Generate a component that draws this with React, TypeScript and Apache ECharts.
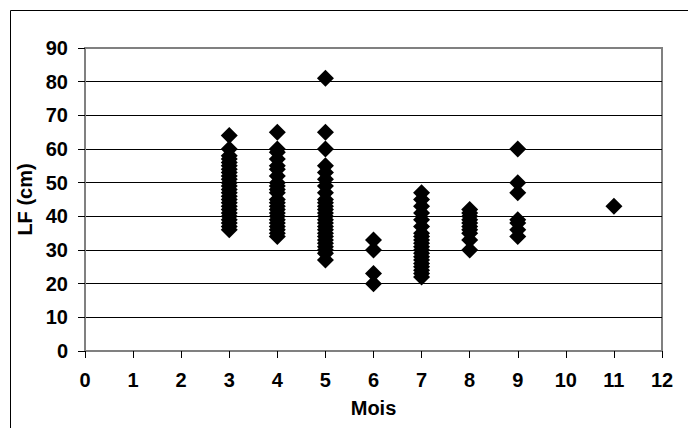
import React, { useEffect, useRef } from "react";
import * as echarts from "echarts";

// Month (Mois) values and fork length (LF, cm)
const lf3 = [64, 60, 58, 57, 56, 55, 54, 53, 52, 51, 50, 49, 48, 47, 46, 45, 44, 43, 42, 41, 40, 39, 38, 37, 36];
const lf4 = [65, 60, 59, 57, 55, 54, 52, 50, 49, 48, 47, 45, 44, 43, 42, 41, 40, 39, 38, 37, 36, 35, 34];
const lf5 = [81, 65, 60, 55, 53, 51, 49, 47, 45, 44, 43, 42, 41, 40, 39, 38, 37, 36, 35, 34, 33, 32, 31, 30, 29, 27];
const lf6 = [33, 30, 23, 20];
const lf7 = [47, 45, 43, 41, 39, 37, 35, 34, 33, 32, 31, 30, 29, 28, 27, 26, 25, 24, 23, 22];
const lf8 = [42, 41, 40, 39, 38, 37, 36, 35, 33, 30];
const lf9 = [60, 50, 47, 39, 38, 36, 34];
const lf11 = [43];

const months = [3, 4, 5, 6, 7, 8, 9, 11];
const lfByMonth = [lf3, lf4, lf5, lf6, lf7, lf8, lf9, lf11];

const xTicks = { min: 0, max: 12, interval: 1 };
const yTicks = { min: 0, max: 90, interval: 10 };

const FONT = 'Arial, "Liberation Sans", Helvetica, sans-serif';

export default function App() {
  const ref = useRef<HTMLDivElement>(null);

  useEffect(() => {
    if (!ref.current) return;
    const chart = echarts.init(ref.current, undefined, { renderer: "svg" });
    const data: number[][] = [];
    months.forEach((m, i) => {
      lfByMonth[i].forEach((v) => data.push([m, v]));
    });

    const txt = { fontFamily: FONT, fontWeight: "bold", fontSize: 20, color: "#000" };

    chart.setOption({
      animation: false,
      backgroundColor: "#ffffff",
      grid: {
        left: 85,
        top: 48,
        right: 26,
        bottom: 77,
        show: true,
        borderColor: "#808080",
        borderWidth: 2,
        backgroundColor: "transparent",
      },
      graphic: [
        {
          type: "rect",
          shape: { x: 10.5, y: 10.5, width: 900, height: 600 },
          style: { fill: "none", stroke: "#000000", lineWidth: 1 },
          silent: true,
          z: -10,
        },
      ],
      xAxis: {
        type: "value",
        min: xTicks.min,
        max: xTicks.max,
        interval: xTicks.interval,
        name: "Mois",
        nameLocation: "middle",
        nameGap: 47,
        nameTextStyle: txt,
        axisLine: { show: true, lineStyle: { color: "#808080", width: 2 } },
        axisTick: { show: true, inside: false, length: 7, lineStyle: { color: "#000", width: 1 } },
        axisLabel: { ...txt, margin: 19 },
        splitLine: { show: false },
      },
      yAxis: {
        type: "value",
        min: yTicks.min,
        max: yTicks.max,
        interval: yTicks.interval,
        name: "LF (cm)",
        nameLocation: "middle",
        nameGap: 46,
        nameTextStyle: txt,
        axisLine: { show: true, lineStyle: { color: "#808080", width: 2 } },
        axisTick: { show: true, inside: false, length: 7, lineStyle: { color: "#000", width: 1 } },
        axisLabel: { ...txt, margin: 17 },
        splitLine: { show: true, showMaxLine: false, showMinLine: false, lineStyle: { color: "#000", width: 1 } },
      },
      series: [
        {
          type: "scatter",
          data,
          symbol: "diamond",
          symbolSize: 17,
          itemStyle: { color: "#000000", opacity: 1 },
          z: 5,
        },
      ],
    });
    return () => chart.dispose();
  }, []);

  return (
    <div
      ref={ref}
      style={{ position: "absolute", left: 0, top: 0, width: 688, height: 428 }}
    />
  );
}
